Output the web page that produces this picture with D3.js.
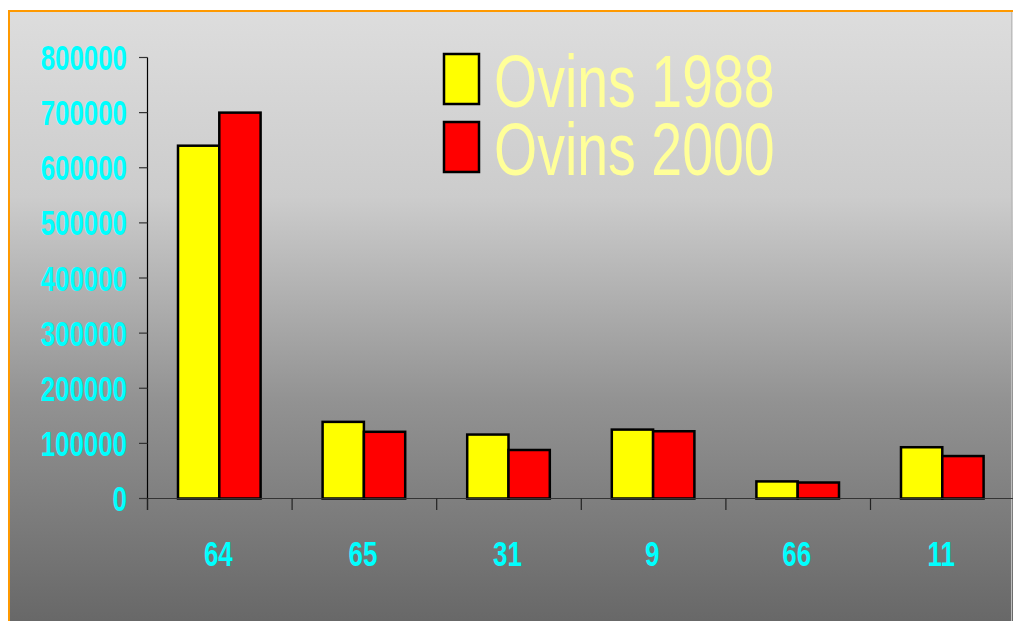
<!DOCTYPE html>
<html><head><meta charset="utf-8">
<script src="https://cdn.jsdelivr.net/npm/d3@7"></script>
<style>html,body{margin:0;padding:0;background:#fff;overflow:hidden}</style>
</head><body>
<svg id="c" width="1013" height="621"></svg>
<script>
const categories = ["64","65","31","9","66","11"];
const seriesNames = ["Ovins 1988","Ovins 2000"];
const ovins1988 = [640000,139000,116000,125000,31000,93000];
const ovins2000 = [700000,121000,88000,122000,29000,77000];
const yTicks = [0,100000,200000,300000,400000,500000,600000,700000,800000];
const colors = ["#ffff00","#ff0000"];

const svg = d3.select("#c");
const defs = svg.append("defs");
const grad = defs.append("linearGradient").attr("id","bg").attr("x1",0).attr("y1",0).attr("x2",0).attr("y2",1);
[[0,"#dddddd"],[0.3,"#cccccc"],[0.63,"#929292"],[1,"#666666"]].forEach(s=>grad.append("stop").attr("offset",s[0]).attr("stop-color",s[1]));

svg.append("rect").attr("x",9).attr("y",11).attr("width",1010).attr("height",620).attr("fill","url(#bg)");
svg.append("line").attr("x1",1011.5).attr("x2",1011.5).attr("y1",12).attr("y2",621).attr("stroke","#bdbdbd").attr("stroke-width",1);
svg.append("line").attr("x1",8).attr("x2",1013).attr("y1",11).attr("y2",11).attr("stroke","#ff9900").attr("stroke-width",2);
svg.append("line").attr("x1",9).attr("x2",9).attr("y1",10).attr("y2",621).attr("stroke","#ff9900").attr("stroke-width",2);

const x0 = d3.scaleBand().domain(categories).range([147,1014.6]).paddingInner(0).paddingOuter(0);
const x1 = d3.scaleBand().domain([0,1]).range([31, x0.bandwidth()-31]);
const y = d3.scaleLinear().domain([0,800000]).range([498.5,57.5]);

// y axis
const ya = svg.append("g");
ya.append("line").attr("x1",147.5).attr("x2",147.5).attr("y1",y(800000)).attr("y2",510).attr("stroke","#000").attr("stroke-width",1.2);
ya.selectAll("line.t").data(yTicks).join("line").attr("class","t")
  .attr("x1",139).attr("x2",147.5).attr("y1",d=>y(d)).attr("y2",d=>y(d)).attr("stroke","#333").attr("stroke-width",1.2);
ya.selectAll("text").data(yTicks).join("text")
  .attr("transform",d=>`translate(127,${y(d)+12.5}) scale(0.74,1)`)
  .attr("text-anchor","end").attr("font-family","Liberation Sans, Arial, sans-serif").attr("font-weight","bold")
  .attr("font-size",35).attr("fill","#00ffff").text(d=>d);

// bars
const g = svg.append("g");
categories.forEach((c,i)=>{
  [ovins1988[i],ovins2000[i]].forEach((v,s)=>{
    g.append("rect").attr("x",x0(c)+x1(s)).attr("y",y(v)).attr("width",x1.bandwidth()).attr("height",y(0)-y(v))
     .attr("fill",colors[s]).attr("stroke","#000").attr("stroke-width",2.5);
  });
});

// x axis
svg.append("line").attr("x1",139).attr("x2",1013).attr("y1",y(0)).attr("y2",y(0)).attr("stroke","#333").attr("stroke-width",1.2);
svg.selectAll("line.xt").data(categories).join("line").attr("class","xt")
  .attr("x1",d=>x0(d)+0.5).attr("x2",d=>x0(d)+0.5).attr("y1",y(0)).attr("y2",510).attr("stroke","#222").attr("stroke-width",1.2);
svg.selectAll("text.xl").data(categories).join("text").attr("class","xl")
  .attr("transform",d=>`translate(${x0(d)+x0.bandwidth()/2-1},566) scale(0.74,1)`)
  .attr("text-anchor","middle").attr("font-family","Liberation Sans, Arial, sans-serif").attr("font-weight","bold")
  .attr("font-size",35).attr("fill","#00ffff").text(d=>d);

// legend
const lg = svg.append("g");
seriesNames.forEach((n,i)=>{
  lg.append("rect").attr("x",444).attr("y",54+i*68).attr("width",35).attr("height",50)
    .attr("fill",colors[i]).attr("stroke","#000").attr("stroke-width",2.5);
  lg.append("text").attr("transform",`translate(494,${107+i*68}) scale(0.74,1)`)
    .attr("font-family","Liberation Sans, Arial, sans-serif").attr("font-size",75).attr("fill","#ffff99").text(n);
});
</script>
</body></html>
